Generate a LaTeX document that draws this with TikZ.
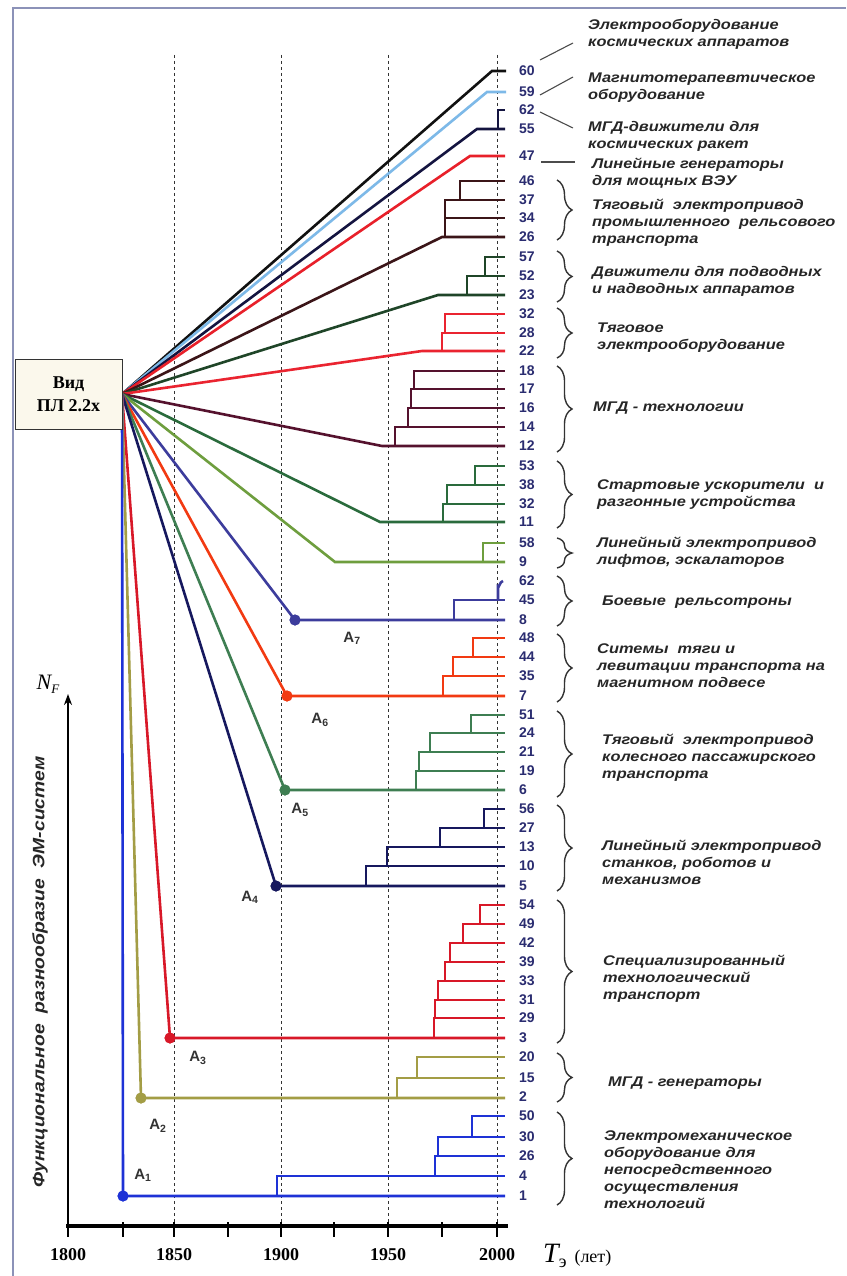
\documentclass[tikz,border=0pt]{standalone}
\usepackage{fontspec}
\setmainfont{Liberation Serif}
\newfontfamily\lblfont[FakeStretch=1.17]{Liberation Sans}
\newfontfamily\numfont{Liberation Sans}
\usetikzlibrary{decorations.pathreplacing,arrows.meta}
\definecolor{c60}{HTML}{111111}
\definecolor{c59}{HTML}{7DB9E8}
\definecolor{c55}{HTML}{141440}
\definecolor{c47}{HTML}{E8202A}
\definecolor{c26}{HTML}{3B1518}
\definecolor{c23}{HTML}{1F4528}
\definecolor{c22}{HTML}{EA2430}
\definecolor{c12}{HTML}{55122E}
\definecolor{c11}{HTML}{2A6B3C}
\definecolor{c9}{HTML}{6E9E3E}
\definecolor{cA7}{HTML}{3C3C9C}
\definecolor{cA6}{HTML}{F23A12}
\definecolor{cA5}{HTML}{3E7E52}
\definecolor{cA4}{HTML}{16185E}
\definecolor{cA3}{HTML}{D81828}
\definecolor{cA2}{HTML}{A39D45}
\definecolor{cA1}{HTML}{1E32D6}
\definecolor{numc}{HTML}{2A2C70}
\definecolor{txtc}{HTML}{262626}
\definecolor{framec}{HTML}{8C92B8}
\definecolor{boxfill}{HTML}{FBF8EC}
\newcommand\brch[4]{\draw[ln,#1] (#2,#3) -- (#2,#4) -- (505,#4);}
\begin{document}
\begin{tikzpicture}[x=1pt,y=-1pt,
  ln/.style={line width=2.6pt,line cap=butt,line join=miter},
  grid/.style={line width=1pt,dash pattern=on 3pt off 3pt,color=black!80},
  num/.style={anchor=west,inner sep=0pt,text=numc,font=\numfont\bfseries\fontsize{14}{14}\selectfont},
  lbl/.style={anchor=west,align=left,inner sep=0pt,text=txtc,font=\lblfont\bfseries\itshape\fontsize{14}{17}\selectfont},
  brc/.style={decorate,decoration={brace,amplitude=15pt},line width=1.4pt,color=black!80},
  ptr/.style={line width=1.1pt,color=black!70},
  dot/.style={circle,inner sep=0pt,minimum size=11pt},
  alab/.style={inner sep=0pt,text=black!80,font=\numfont\bfseries\fontsize{15}{15}\selectfont},
  yr/.style={inner sep=0pt,font=\bfseries\fontsize{18}{18}\selectfont}]
\useasboundingbox (0,0) rectangle (846,1276);
\fill[white] (0,0) rectangle (846,1276);
% frame
\draw[line width=1.2pt,framec] (13,1276) -- (13,8) -- (846,8);
% dashed year lines
\foreach \x in {174,281,388,497} \draw[grid] (\x,55) -- (\x,1226);
% origin and group starts
\coordinate (o) at (122,394);
\coordinate (g60) at (492,71);
\coordinate (g59) at (487,92);
\coordinate (g55) at (477,129);
\coordinate (g47) at (470,156);
\coordinate (g26) at (442,237);
\coordinate (g23) at (438,295);
\coordinate (g22) at (422,351);
\coordinate (g12) at (382,446);
\coordinate (g11) at (380,522);
\coordinate (g9) at (335,562);
% fan lines
\draw[ln,c60] (o) -- (g60) -- (506,71);
\draw[ln,c59] (o) -- (g59) -- (506,92);
\draw[ln,c55] (o) -- (g55) -- (505,129);
\draw[ln,c47] (o) -- (g47) -- (505,156);
\draw[ln,c26] (o) -- (g26) -- (505,237);
\draw[ln,c23] (o) -- (g23) -- (505,295);
\draw[ln,c22] (o) -- (g22) -- (505,351);
\draw[ln,c12] (o) -- (g12) -- (505,446);
\draw[ln,c11] (o) -- (g11) -- (505,522);
\draw[ln,c9] (o) -- (g9) -- (505,562);
\node[dot,fill=cA7] (A7) at (295,620) {};
\node[dot,fill=cA6] (A6) at (287,696) {};
\node[dot,fill=cA5] (A5) at (285,790) {};
\node[dot,fill=cA4] (A4) at (276,886) {};
\node[dot,fill=cA3] (A3) at (170,1038) {};
\node[dot,fill=cA2] (A2) at (141,1098) {};
\node[dot,fill=cA1] (A1) at (123,1196) {};
\draw[ln,cA7] (o) -- (A7.center) -- (505,620);
\draw[ln,cA6] (o) -- (A6.center) -- (505,696);
\draw[ln,cA5] (o) -- (A5.center) -- (505,790);
\draw[ln,cA4] (o) -- (A4.center) -- (505,886);
\draw[ln,cA3] (o) -- (A3.center) -- (505,1038);
\draw[ln,cA2] (o) -- (A2.center) -- (505,1098);
\draw[ln,cA1] (o) -- (A1.center) -- (505,1196);
% re-draw dots on top
\foreach \n/\c in {A7/cA7,A6/cA6,A5/cA5,A4/cA4,A3/cA3,A2/cA2,A1/cA1}
  \fill[\c] (\n.center) circle (5.5pt);
% branches
\brch{c55}{498}{129}{110}
\brch{c26}{445}{237}{218}
\brch{c26}{445}{218}{200}
\brch{c26}{460}{200}{181}
\brch{c23}{467}{295}{276}
\brch{c23}{485}{276}{257}
\brch{c22}{442}{351}{333}
\brch{c22}{445}{333}{314}
\brch{c12}{395}{446}{427}
\brch{c12}{408}{427}{408}
\brch{c12}{411}{408}{389}
\brch{c12}{414}{389}{371}
\brch{c11}{443}{522}{504}
\brch{c11}{447}{504}{485}
\brch{c11}{475}{485}{466}
\brch{c9}{483}{562}{543}
\brch{cA7}{454}{620}{600}
\draw[ln,cA7] (498,600) -- (498,587) to[out=-90,in=180] (503,581);
\brch{cA6}{443}{696}{676}
\brch{cA6}{453}{676}{657}
\brch{cA6}{473}{657}{638}
\brch{cA5}{416}{790}{771}
\brch{cA5}{419}{771}{752}
\brch{cA5}{430}{752}{733}
\brch{cA5}{471}{733}{715}
\brch{cA4}{366}{886}{866}
\brch{cA4}{387}{866}{847}
\brch{cA4}{440}{847}{828}
\brch{cA4}{484}{828}{809}
\brch{cA3}{434}{1038}{1018}
\brch{cA3}{435}{1018}{1000}
\brch{cA3}{438}{1000}{981}
\brch{cA3}{445}{981}{962}
\brch{cA3}{450}{962}{943}
\brch{cA3}{463}{943}{924}
\brch{cA3}{480}{924}{905}
\brch{cA2}{397}{1097}{1078}
\brch{cA2}{417}{1078}{1057}
\brch{cA1}{277}{1196}{1176}
\brch{cA1}{435}{1176}{1156}
\brch{cA1}{438}{1156}{1137}
\brch{cA1}{472}{1137}{1116}
% A labels
\node[alab] (la1) at (143,1175) {A\textsubscript{1}};
\node[alab] (la2) at (158,1126) {A\textsubscript{2}};
\node[alab] (la3) at (198,1058) {A\textsubscript{3}};
\node[alab] (la4) at (250,897) {A\textsubscript{4}};
\node[alab] (la5) at (300,810) {A\textsubscript{5}};
\node[alab] (la6) at (320,720) {A\textsubscript{6}};
\node[alab] (la7) at (352,638) {A\textsubscript{7}};
% box
\node[draw=black!80,line width=1pt,fill=boxfill,minimum width=107pt,minimum height=70pt,align=center,
  font=\bfseries\fontsize{18}{23}\selectfont] (box) at (68.5,394) {Вид\\ПЛ 2.2х};
% numbers
\foreach \n/\y in {60/71,59/92,62/110,55/129,47/156,46/181,37/200,34/218,26/237,57/257,52/276,23/295,
  32/314,28/333,22/351,18/371,17/389,16/408,14/427,12/446,53/466,38/485,32/504,11/522,58/543,9/562,
  62/581,45/600,8/620,48/638,44/657,35/676,7/696,51/715,24/733,21/752,19/771,6/790,56/809,27/828,
  13/847,10/866,5/886,54/905,49/924,42/943,39/962,33/981,31/1000,29/1018,3/1038,20/1057,15/1078,
  2/1097,50/1116,30/1137,26/1156,4/1176,1/1196}
  \node[num] (n\y) at (519,\y) {\n};
% pointer lines
\coordinate (p1) at (573,43); \draw[ptr] (540,60) -- (p1);
\coordinate (p2) at (573,77); \draw[ptr] (540,95) -- (p2);
\coordinate (p3) at (573,128); \draw[ptr] (540,112) -- (p3);
\coordinate (p4) at (575,162); \draw[ptr] (541,162) -- (p4);
% braces
\foreach \a/\b in {180/240,251/302,308/358,366/452,461/528,538/568,576/626,634/702,711/797,805/891,900/1043,1053/1102,1112/1205}
  \draw[brc] (557,\a) -- (557,\b);
% labels
\node[lbl] (t1) at (588,34) {Электрооборудование\\космических аппаратов};
\node[lbl] (t2) at (588,88) {Магнитотерапевтическое\\оборудование};
\node[lbl] (t3) at (588,136) {МГД-движители для\\космических ракет};
\node[lbl] (t4) at (592,173) {Линейные генераторы\\для мощных ВЭУ};
\node[lbl] (t5) at (592,223) {Тяговый~~электропривод\\промышленного~~рельсового\\транспорта};
\node[lbl] (t6) at (592,281) {Движители для подводных\\и надводных аппаратов};
\node[lbl] (t7) at (597,338) {Тяговое\\электрооборудование};
\node[lbl] (t8) at (593,408) {МГД - технологии};
\node[lbl] (t9) at (597,495) {Стартовые ускорители~~и\\разгонные устройства};
\node[lbl] (t10) at (597,552) {Линейный электропривод\\лифтов, эскалаторов};
\node[lbl] (t11) at (602,602) {Боевые~~рельсотроны};
\node[lbl] (t12) at (597,666) {Ситемы~~тяги и\\левитации транспорта на\\магнитном подвесе};
\node[lbl] (t13) at (602,758) {Тяговый~~электропривод\\колесного пассажирского\\транспорта};
\node[lbl] (t14) at (602,862) {Линейный электропривод\\станков, роботов и\\механизмов};
\node[lbl] (t15) at (603,979) {Специализированный\\технологический\\транспорт};
\node[lbl] (t16) at (608,1083) {МГД - генераторы};
\node[lbl] (t17) at (604,1170) {Электромеханическое\\оборудование для\\непосредственного\\осуществления\\технологий};
% axes
\draw[line width=3.2pt] (66,1226) -- (508,1226);
\foreach \x in {68,123,174,228,281,334,388,442,497} \draw[line width=2.4pt] (\x,1222) -- (\x,1237);
\draw[line width=2pt,-{Stealth[length=11pt,width=8pt]}] (68,1226) -- (68,694);
\foreach \x/\t in {68/1800,174/1850,281/1900,388/1950,497/2000}
  \node[yr] (y\t) at (\x,1255) {\t};
\node[anchor=west,inner sep=0pt] (tlab) at (543,1256)
  {{\fontsize{28}{28}\selectfont\itshape T}\raisebox{-5pt}{\fontsize{18}{18}\selectfont э}\hspace{8pt}{\fontsize{18}{18}\selectfont (лет)}};
\node[inner sep=0pt] (nf) at (48,684) {{\fontsize{22}{22}\selectfont\itshape N}\raisebox{-4pt}{\fontsize{13}{13}\selectfont\itshape F}};
\node[rotate=90,inner sep=0pt,text=txtc,font=\lblfont\bfseries\itshape\fontsize{16.5}{17}\selectfont] (ylab) at (40,972)
  {Функциональное~~разнообразие~~ЭМ-систем};
\end{tikzpicture}
\end{document}
